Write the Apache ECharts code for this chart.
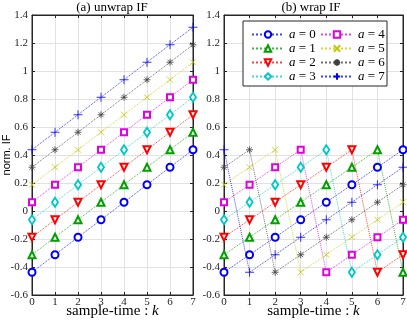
<!DOCTYPE html>
<html lang="en">
<head>
    <meta charset="UTF-8">
    <title>unwrap / wrap IF</title>
    <script src="https://cdn.jsdelivr.net/npm/echarts@6/dist/echarts.min.js"></script>
    <style>
        html, body { margin: 0; padding: 0; background: #fff; }
        #chart { width: 407px; height: 324px; }
    </style>
</head>
<body>
    <div id="chart"></div>
    <script>
        // sample-time k
        const kTicks = [0, 1, 2, 3, 4, 5, 6, 7];
        const seriesNames = ['a = 0', 'a = 1', 'a = 2', 'a = 3', 'a = 4', 'a = 5', 'a = 6', 'a = 7'];

        // (a) unwrap IF
        const unwrap0 = [-0.4375, -0.3125, -0.1875, -0.0625, 0.0625, 0.1875, 0.3125, 0.4375];
        const unwrap1 = [-0.3125, -0.1875, -0.0625, 0.0625, 0.1875, 0.3125, 0.4375, 0.5625];
        const unwrap2 = [-0.1875, -0.0625, 0.0625, 0.1875, 0.3125, 0.4375, 0.5625, 0.6875];
        const unwrap3 = [-0.0625, 0.0625, 0.1875, 0.3125, 0.4375, 0.5625, 0.6875, 0.8125];
        const unwrap4 = [0.0625, 0.1875, 0.3125, 0.4375, 0.5625, 0.6875, 0.8125, 0.9375];
        const unwrap5 = [0.1875, 0.3125, 0.4375, 0.5625, 0.6875, 0.8125, 0.9375, 1.0625];
        const unwrap6 = [0.3125, 0.4375, 0.5625, 0.6875, 0.8125, 0.9375, 1.0625, 1.1875];
        const unwrap7 = [0.4375, 0.5625, 0.6875, 0.8125, 0.9375, 1.0625, 1.1875, 1.3125];

        // (b) wrap IF
        const wrap0 = [-0.4375, -0.3125, -0.1875, -0.0625, 0.0625, 0.1875, 0.3125, 0.4375];
        const wrap1 = [-0.3125, -0.1875, -0.0625, 0.0625, 0.1875, 0.3125, 0.4375, -0.4375];
        const wrap2 = [-0.1875, -0.0625, 0.0625, 0.1875, 0.3125, 0.4375, -0.4375, -0.3125];
        const wrap3 = [-0.0625, 0.0625, 0.1875, 0.3125, 0.4375, -0.4375, -0.3125, -0.1875];
        const wrap4 = [0.0625, 0.1875, 0.3125, 0.4375, -0.4375, -0.3125, -0.1875, -0.0625];
        const wrap5 = [0.1875, 0.3125, 0.4375, -0.4375, -0.3125, -0.1875, -0.0625, 0.0625];
        const wrap6 = [0.3125, 0.4375, -0.4375, -0.3125, -0.1875, -0.0625, 0.0625, 0.1875];
        const wrap7 = [0.4375, -0.4375, -0.3125, -0.1875, -0.0625, 0.0625, 0.1875, 0.3125];

        const unwrapAll = [unwrap0, unwrap1, unwrap2, unwrap3, unwrap4, unwrap5, unwrap6, unwrap7];
        const wrapAll = [wrap0, wrap1, wrap2, wrap3, wrap4, wrap5, wrap6, wrap7];

        // matlab-ish marker styles: o ^ v d s x * +
        const colors = ['#0000ff', '#00a000', '#ff0000', '#00c8c8', '#e000e0', '#c8c800', '#404040', '#0000ff'];
        const symbols = [
            'emptyCircle',
            'emptyTriangle',
            'emptyTriangle',
            'emptyDiamond',
            'emptyRect',
            'path://M0,0L10,10M10,0L0,10',
            'path://M5,0L5,10M0,5L10,5M1.5,1.5L8.5,8.5M8.5,1.5L1.5,8.5',
            'path://M5,0L5,10M0,5L10,5'
        ];
        const rotations = [0, 0, 180, 0, 0, 0, 0, 0];
        const sizes = [7, 7, 7, [6, 9], 6, 6, 7, 9];

        const serif = 'Liberation Serif';
        const ink = '#262626';

        function makeSeries(arr, i, gridIdx) {
            return {
                name: seriesNames[i],
                type: 'line',
                xAxisIndex: gridIdx,
                yAxisIndex: gridIdx,
                data: kTicks.map((k, j) => [k, arr[j]]),
                symbol: symbols[i],
                symbolSize: sizes[i],
                symbolRotate: rotations[i],
                symbolKeepAspect: true,
                showAllSymbol: true,
                animation: false,
                color: colors[i],
                lineStyle: { color: colors[i], type: 'dotted', width: 1, opacity: 0.75 },
                itemStyle: { borderColor: colors[i], borderWidth: 0.8 },
                emphasis: { disabled: true },
                z: 3
            };
        }

        const series = [];
        unwrapAll.forEach((arr, i) => series.push(makeSeries(arr, i, 0)));
        wrapAll.forEach((arr, i) => series.push(makeSeries(arr, i, 1)));

        const gridLine = { show: true, lineStyle: { color: '#e2e2e2', width: 1 } };

        function xAxisFor(gridIdx) {
            return {
                type: 'value', gridIndex: gridIdx, min: 0, max: 7, interval: 1,
                name: '{t|sample-time : }{k|k}',
                nameLocation: 'middle', nameGap: 9, nameMoveOverlap: false,
                nameTextStyle: {
                    rich: {
                        t: { fontFamily: serif, fontSize: 15, color: '#000' },
                        k: { fontFamily: serif, fontSize: 15, fontStyle: 'italic', color: '#000' }
                    }
                },
                axisLine: { show: true, onZero: false, lineStyle: { color: ink, width: 1 } },
                axisTick: { show: true, inside: true, length: 3, lineStyle: { color: ink } },
                axisLabel: { fontFamily: serif, fontSize: 11, color: ink, margin: 2 },
                splitLine: gridLine
            };
        }

        function yAxisFor(gridIdx) {
            return {
                type: 'value', gridIndex: gridIdx, min: -0.6, max: 1.4, interval: 0.2,
                name: gridIdx === 0 ? 'norm. IF' : '',
                nameLocation: 'middle', nameGap: 20, nameMoveOverlap: false,
                nameTextStyle: { fontFamily: 'Liberation Sans', fontSize: 11, color: '#000' },
                axisLine: { show: true, onZero: false, lineStyle: { color: ink, width: 1 } },
                axisTick: { show: true, inside: true, length: 3, lineStyle: { color: ink } },
                axisLabel: {
                    fontFamily: serif, fontSize: 11, color: ink, margin: 4,
                    formatter: v => String(Math.round(v * 10) / 10)
                },
                splitLine: gridLine
            };
        }

        // mirror axes on top / right, ticks only (matlab box)
        function xMirror(gridIdx) {
            return {
                type: 'value', gridIndex: gridIdx, min: 0, max: 7, interval: 1, position: 'top',
                axisLine: { show: true, onZero: false, lineStyle: { color: ink, width: 1 } },
                axisTick: { show: true, inside: true, length: 3, lineStyle: { color: ink } },
                axisLabel: { show: false }, splitLine: { show: false }
            };
        }
        function yMirror(gridIdx) {
            return {
                type: 'value', gridIndex: gridIdx, min: -0.6, max: 1.4, interval: 0.2, position: 'right',
                axisLine: { show: true, onZero: false, lineStyle: { color: ink, width: 1 } },
                axisTick: { show: true, inside: true, length: 3, lineStyle: { color: ink } },
                axisLabel: { show: false }, splitLine: { show: false }
            };
        }

        const legendBase = {
            orient: 'vertical',
            top: 23,
            itemWidth: 32,
            itemHeight: 8,
            itemGap: 1,
            selectedMode: false,
            formatter: name => '{i|a}{t|' + name.slice(1) + '}',
            textStyle: {
                rich: {
                    i: { fontFamily: serif, fontStyle: 'italic', fontSize: 13, color: '#000' },
                    t: { fontFamily: serif, fontSize: 13, color: '#000' }
                }
            },
            z: 6
        };

        const titleStyle = { fontFamily: serif, fontSize: 13, fontWeight: 'normal', color: '#000' };

        const option = {
            backgroundColor: '#fff',
            animation: false,
            title: [
                { text: '(a) unwrap IF', left: 112, textAlign: 'center', top: 1, padding: 0, textStyle: titleStyle },
                { text: '(b) wrap IF', left: 311, textAlign: 'center', top: 1, padding: 0, textStyle: titleStyle }
            ],
            grid: [
                { left: 32, right: 214, top: 15, bottom: 29, outerBoundsMode: 'none',
                  show: true, borderColor: ink, borderWidth: 1, backgroundColor: '#fff' },
                { left: 224, right: 4, top: 15, bottom: 29, outerBoundsMode: 'none',
                  show: true, borderColor: ink, borderWidth: 1, backgroundColor: '#fff' }
            ],
            xAxis: [xAxisFor(0), xAxisFor(1), xMirror(0), xMirror(1)],
            yAxis: [yAxisFor(0), yAxisFor(1), yMirror(0), yMirror(1)],
            legend: [
                Object.assign({}, legendBase, { left: 246, data: seriesNames.slice(0, 4) }),
                Object.assign({}, legendBase, { left: 315, data: seriesNames.slice(4, 8) })
            ],
            graphic: [{
                type: 'rect', z: 5,
                shape: { x: 243, y: 21, width: 144, height: 65 },
                style: { fill: '#fff', stroke: ink, lineWidth: 1 }
            }],
            series: series
        };

        const chart = echarts.init(document.getElementById('chart'), null, { renderer: 'canvas' });
        chart.setOption(option);
    </script>
</body>
</html>
